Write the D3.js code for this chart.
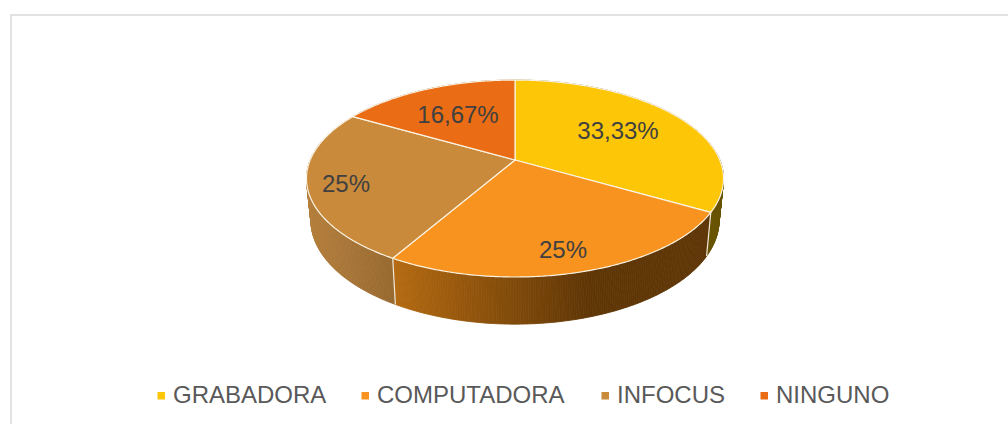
<!DOCTYPE html>
<html>
  <head>
    <meta charset="utf-8">
    <title>Pie 3D</title>
    <script src="https://d3js.org/d3.v7.min.js"></script>
    <style>
      html, body { margin: 0; padding: 0; background: #fff; }
      svg { display: block; }
      text { font-family: "Liberation Sans", Arial, sans-serif; }
    </style>
  </head>
  <body>
    <svg id="chart" width="1008" height="424"></svg>
    <script>
      // chart values
      const categories = ["GRABADORA", "COMPUTADORA", "INFOCUS", "NINGUNO"];
      const values = [33.33, 25, 25, 16.67];
      const valueLabels = ["33,33%", "25%", "25%", "16,67%"];
      const colors = ["#fdc708", "#f7931e", "#c98a3c", "#ea6c14"];
      const sideColors = [["#6b5700", "#665200"], ["#b56a10", "#5e3505"], ["#b57f3c", "#96682f"], ["#8a3f0a", "#8a3f0a"]];

      // layout
      const width = 1008;
      const height = 424;
      const cx = 515;
      const persp = 0.188;
      const topRim = { y: 160, rx: 204.8, ry: 95 };
      const bottomRim = { y: 201, rx: 200.4, ry: 100 };
      const labelAt = [[618, 130.5], [563, 249.5], [346, 183.5], [458, 114.5]];
      const legendX = [157.5, 361.5, 601.5, 760.5];
      const legendTextX = [173, 377, 617, 776];

      const svg = d3.select("#chart");
      const defs = svg.append("defs");

      // frame
      svg.append("path")
        .attr("d", "M11,424V15H1008")
        .attr("fill", "none")
        .attr("stroke", "#d9d9d9")
        .attr("stroke-width", 1.5);

      const arcs = d3.pie().sort(null)(values);

      // angle runs clockwise from 12 o'clock, the near side of the disc is down
      function project(rim, a, r) {
        const u = Math.sin(a) * r;
        const v = -Math.cos(a) * r;
        const k = 1 - persp * v;
        return [cx + rim.rx * u / k, rim.y + rim.ry * v / k];
      }

      function steps(d) {
        const n = Math.ceil((d.endAngle - d.startAngle) / 0.01);
        return d3.range(n + 1).map(i => d.startAngle + (d.endAngle - d.startAngle) * i / n);
      }

      const line = d3.line();

      // side walls: the swept quads make a mask, a gradient rect fills it
      arcs.forEach((d, i) => {
        const ts = steps(d);
        const tops = ts.map(t => project(topRim, t, 1));
        const bots = ts.map(t => project(bottomRim, t, 1));
        const ext = d3.extent(tops.concat(bots), p => p[0]);
        const grad = defs.append("linearGradient")
          .attr("id", "side" + i)
          .attr("gradientUnits", "userSpaceOnUse")
          .attr("x1", ext[0]).attr("x2", ext[1])
          .attr("y1", 0).attr("y2", 0);
        grad.selectAll("stop")
          .data(sideColors[i])
          .join("stop")
            .attr("offset", (c, j) => i == 1 ? (j ? 0.62 : 0) : j)
            .attr("stop-color", c => c);
        const mask = defs.append("mask")
          .attr("id", "wall" + i)
          .attr("maskUnits", "userSpaceOnUse")
          .attr("x", 0).attr("y", 0)
          .attr("width", width).attr("height", height);
        d3.range(ts.length - 1).forEach(j => {
          mask.append("path")
            .attr("d", line([tops[j], tops[j + 1], bots[j + 1], bots[j]]) + "Z")
            .attr("fill", "#fff")
            .attr("stroke", "#fff")
            .attr("stroke-width", 0.8);
        });
        svg.append("rect")
          .attr("width", width)
          .attr("height", height)
          .attr("fill", "url(#side" + i + ")")
          .attr("mask", "url(#wall" + i + ")");
      });

      // light seams between the walls
      arcs.forEach(d => {
        svg.append("path")
          .attr("d", line([project(topRim, d.endAngle, 1), project(bottomRim, d.endAngle, 1)]))
          .attr("stroke", "#f2ead8")
          .attr("stroke-width", 1.2)
          .attr("fill", "none");
      });

      // top faces
      arcs.forEach((d, i) => {
        const rim = steps(d).map(t => project(topRim, t, 1));
        svg.append("path")
          .attr("d", line([[cx, topRim.y]].concat(rim)) + "Z")
          .attr("fill", colors[i])
          .attr("stroke", "#fbf3e2")
          .attr("stroke-width", 1.2)
          .attr("stroke-linejoin", "round");
      });

      // value labels
      svg.selectAll(".value")
        .data(valueLabels)
        .join("text")
          .attr("class", "value")
          .attr("x", (d, i) => labelAt[i][0])
          .attr("y", (d, i) => labelAt[i][1] + 8.5)
          .attr("text-anchor", "middle")
          .attr("font-size", 24)
          .attr("fill", "#404040")
          .text(d => d);

      // legend
      const legend = svg.selectAll(".legend")
        .data(categories)
        .join("g")
          .attr("class", "legend");
      legend.append("rect")
        .attr("x", (d, i) => legendX[i])
        .attr("y", 392)
        .attr("width", 7.5)
        .attr("height", 7.5)
        .attr("fill", (d, i) => colors[i]);
      legend.append("text")
        .attr("x", (d, i) => legendTextX[i])
        .attr("y", 403)
        .attr("font-size", 24)
        .attr("fill", "#595959")
        .text(d => d);
    </script>
  </body>
</html>
